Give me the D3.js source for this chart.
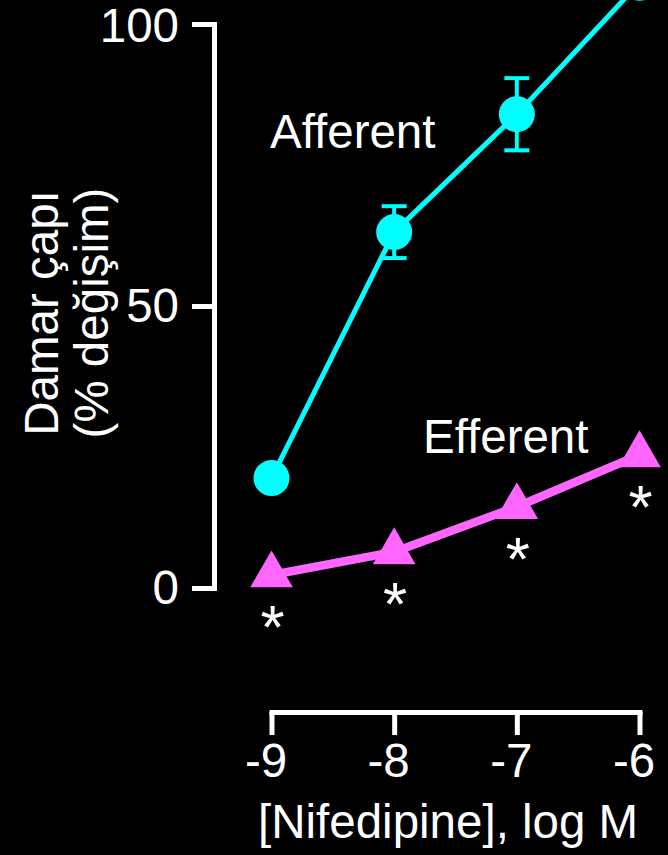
<!DOCTYPE html>
<html>
<head>
<meta charset="utf-8">
<script src="https://cdn.jsdelivr.net/npm/d3@7"></script>
<style>
  html, body { margin: 0; padding: 0; background: #000; }
  svg { display: block; }
  text { font-family: "Liberation Sans", Arial, Helvetica, sans-serif; fill: #fff; }
</style>
</head>
<body>
<svg id="chart" width="668" height="855"></svg>
<script>
// Nifedipine concentration (log M)
const doses = [-9, -8, -7, -6];
// Vessel diameter, % change
const afferent = [19.5, 63.1, 84.0, 107.3];
const afferentSem = [null, 4.6, 6.4, null];
const efferent = [2.3, 6.4, 14.4, 23.6];
const yTicks = [0, 50, 100];
const significant = [true, true, true, true];

const svg = d3.select("#chart");
const W = 668, H = 855;
svg.append("rect").attr("width", W).attr("height", H).attr("fill", "#000");

const x = d3.scaleLinear().domain([-9, -6]).range([271.5, 639.5]);
const y = d3.scaleLinear().domain([0, 100]).range([588, 24]);

const fontSize = 47.5;
const axisColor = "#fff";
const axisWidth = 5;

// Y axis
const yAxis = svg.append("g")
  .attr("transform", "translate(214,0)")
  .call(d3.axisLeft(y).tickValues(yTicks).tickSize(22).tickSizeOuter(0).tickPadding(13));
yAxis.select(".domain").attr("stroke", axisColor).attr("stroke-width", axisWidth).attr("stroke-linecap", "square");
yAxis.selectAll(".tick line").attr("stroke", axisColor).attr("stroke-width", axisWidth);
yAxis.selectAll(".tick text").attr("fill", "#fff").attr("font-size", fontSize)
  .attr("font-family", "Liberation Sans, Arial, sans-serif")
  .attr("dy", d => d === 100 ? "0.36em" : "0.32em");

// X axis
const xAxis = svg.append("g")
  .attr("transform", "translate(0,712)")
  .call(d3.axisBottom(x).tickValues(doses).tickFormat(d3.format("d")).tickSize(23).tickSizeOuter(0).tickPadding(8));
xAxis.select(".domain").attr("stroke", axisColor).attr("stroke-width", axisWidth).attr("stroke-linecap", "square");
xAxis.selectAll(".tick line").attr("stroke", axisColor).attr("stroke-width", axisWidth);
xAxis.selectAll(".tick text").attr("fill", "#fff").attr("font-size", fontSize).attr("dx", -6)
  .attr("font-family", "Liberation Sans, Arial, sans-serif")
  .text(d => "-" + Math.abs(d));

// Axis titles
svg.append("text")
  .attr("x", 258).attr("y", 838)
  .attr("font-size", fontSize)
  .text("[Nifedipine], log M");

const yTitle = svg.append("text")
  .attr("transform", "translate(0,313) rotate(-90)")
  .attr("text-anchor", "middle")
  .attr("font-size", fontSize);
yTitle.append("tspan").attr("x", 0).attr("y", 58).text("Damar çapı");
yTitle.append("tspan").attr("x", 0).attr("y", 108).text("(% değişim)");

// Efferent series
const cyan = "#00ffff";
const magenta = "#ff66ff";

const effData = doses.map((d, i) => ({ d, v: efferent[i], sig: significant[i] }));
svg.append("path")
  .datum(effData)
  .attr("fill", "none")
  .attr("stroke", magenta)
  .attr("stroke-width", 8.5)
  .attr("d", d3.line().x(p => x(p.d)).y(p => y(p.v)));
svg.selectAll(".tri")
  .data(effData)
  .join("path")
  .attr("class", "tri")
  .attr("transform", p => `translate(${x(p.d)},${y(p.v)})`)
  .attr("fill", magenta)
  .attr("d", d3.symbol(d3.symbolTriangle, 786));

// Significance markers below each efferent point
const starSize = 62;
svg.selectAll(".star")
  .data(effData.filter(p => p.sig))
  .join("text")
  .attr("class", "star")
  .attr("text-anchor", "middle")
  .attr("font-size", starSize)
  .attr("x", p => x(p.d) + 1)
  .attr("y", p => y(p.v) + 38 + 0.57 * starSize)
  .text("*");

// Afferent series
const affData = doses.map((d, i) => ({ d, v: afferent[i], sem: afferentSem[i] }));
svg.append("path")
  .datum(affData)
  .attr("fill", "none")
  .attr("stroke", cyan)
  .attr("stroke-width", 5)
  .attr("d", d3.line().x(p => x(p.d)).y(p => y(p.v)));

const eb = svg.selectAll(".eb")
  .data(affData.filter(p => p.sem != null))
  .join("g")
  .attr("class", "eb")
  .attr("stroke", cyan)
  .attr("stroke-width", 4);
eb.append("line")
  .attr("x1", p => x(p.d)).attr("x2", p => x(p.d))
  .attr("y1", p => y(p.v + p.sem)).attr("y2", p => y(p.v - p.sem));
eb.append("line")
  .attr("x1", p => x(p.d) - 12.5).attr("x2", p => x(p.d) + 12.5)
  .attr("y1", p => y(p.v + p.sem)).attr("y2", p => y(p.v + p.sem));
eb.append("line")
  .attr("x1", p => x(p.d) - 12.5).attr("x2", p => x(p.d) + 12.5)
  .attr("y1", p => y(p.v - p.sem)).attr("y2", p => y(p.v - p.sem));

svg.selectAll(".dot")
  .data(affData)
  .join("circle")
  .attr("class", "dot")
  .attr("cx", p => x(p.d)).attr("cy", p => y(p.v))
  .attr("r", 18)
  .attr("fill", cyan);

// Series labels
svg.append("text").attr("x", 270).attr("y", 148).attr("font-size", fontSize).text("Afferent");
svg.append("text").attr("x", 423).attr("y", 453).attr("font-size", fontSize).text("Efferent");
</script>
</body>
</html>
